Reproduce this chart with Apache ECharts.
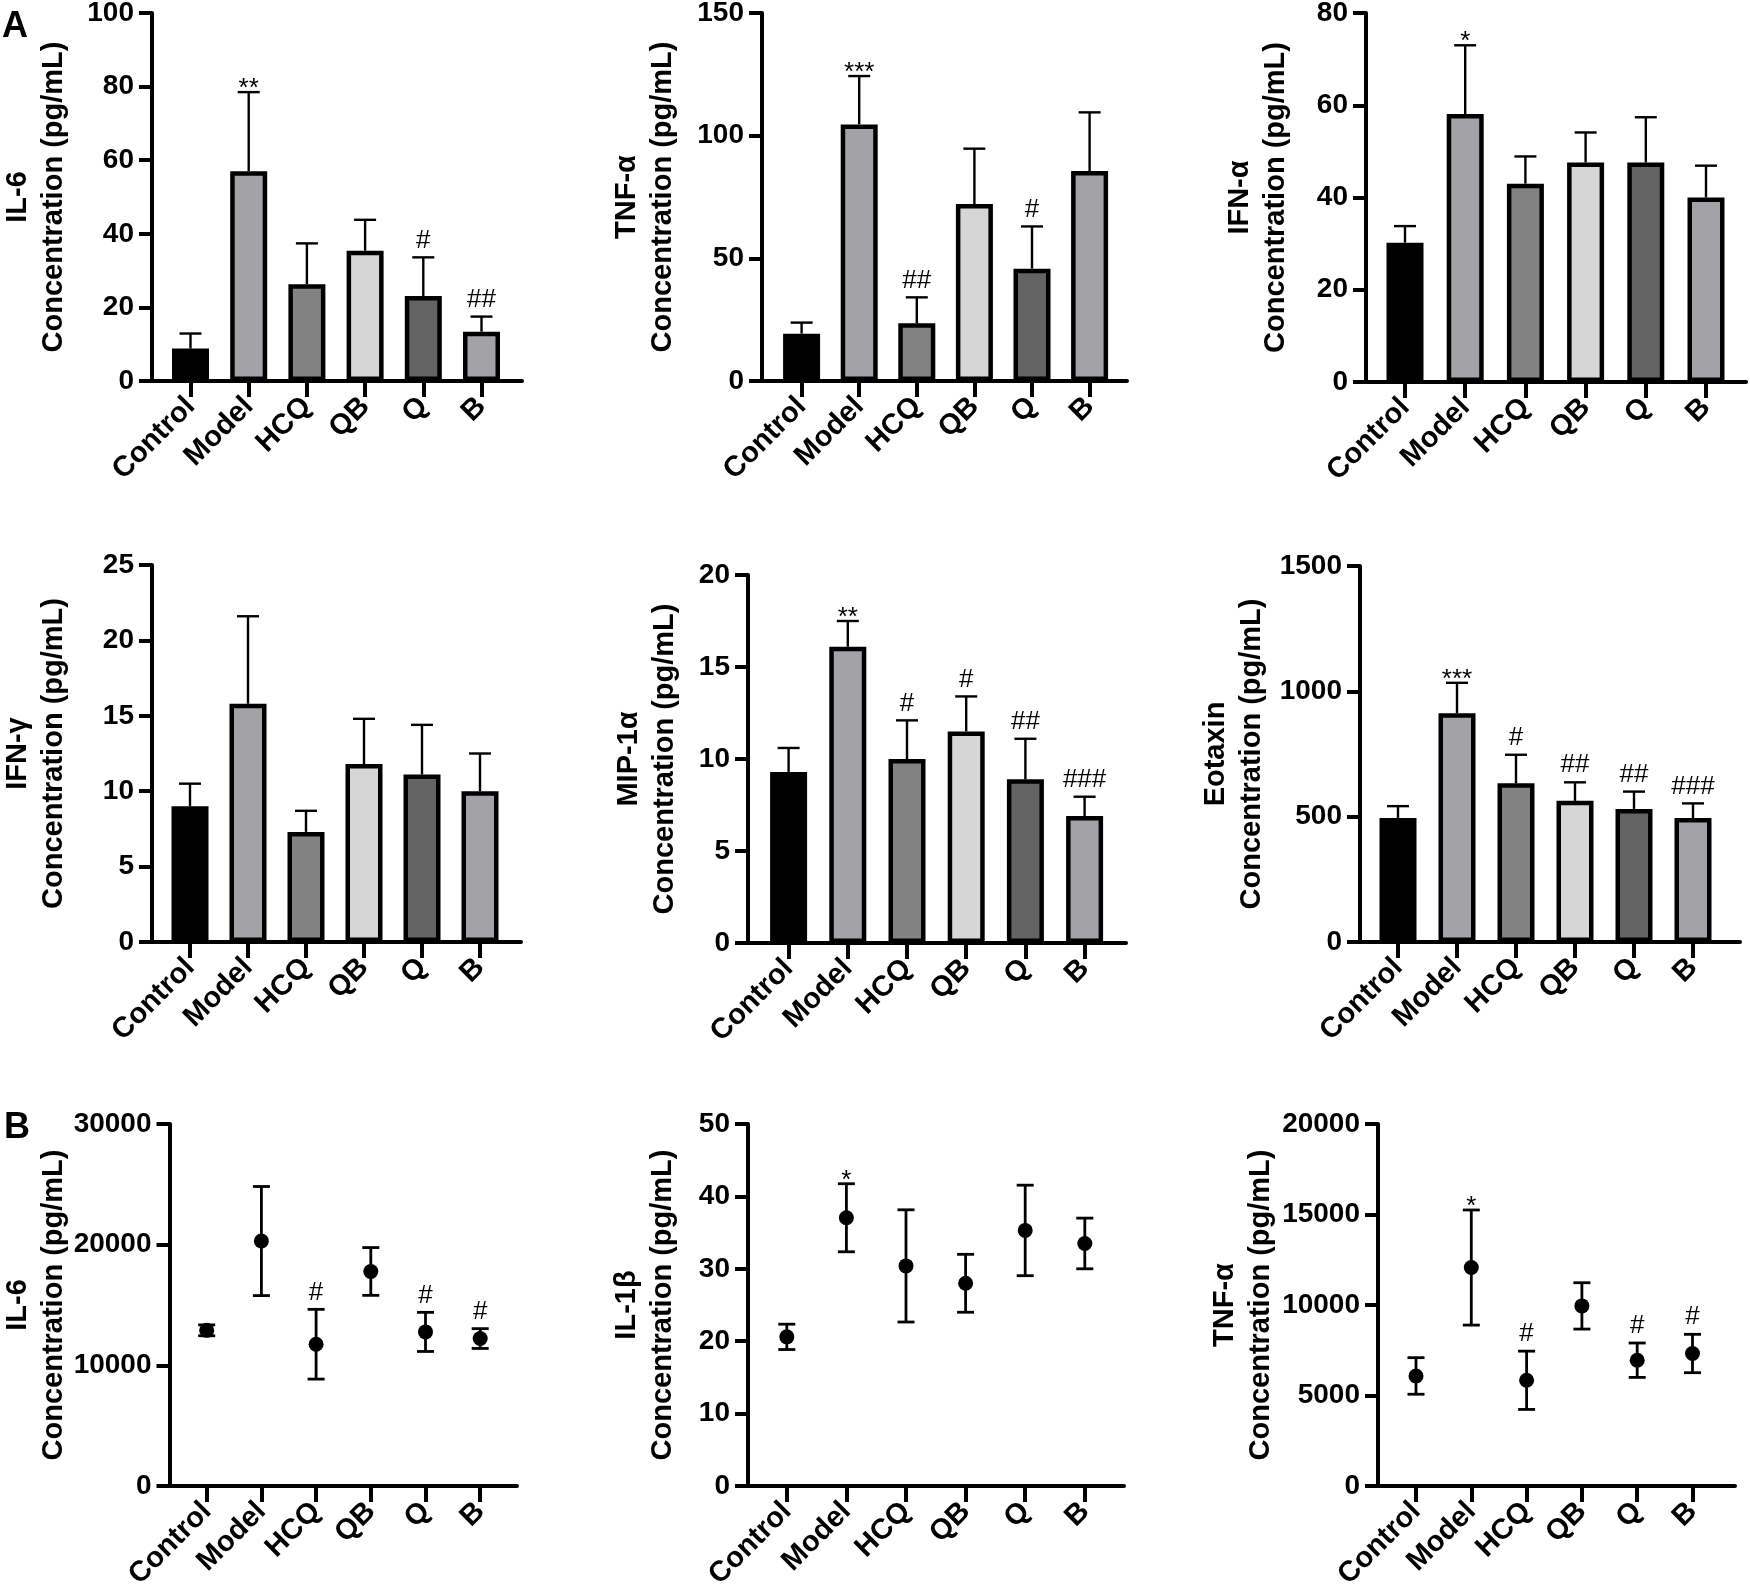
<!DOCTYPE html>
<html>
<head>
<meta charset="utf-8">
<title>Cytokine concentrations</title>
<script src="https://cdn.jsdelivr.net/npm/echarts@6.0.0/dist/echarts.min.js"></script>
<style>
  html, body { margin: 0; padding: 0; background: #fff; }
  #chart { width: 1750px; height: 1589px; }
</style>
</head>
<body>
<div id="chart"></div>
<script>
// groups on every x axis
const groups = ['Control', 'Model', 'HCQ', 'QB', 'Q', 'B'];

// A: bar panels (mean, SD, significance marks)
const il6Mean = [8.8, 57.0, 26.3, 35.4, 23.1, 13.4];
const il6Sd   = [4.1, 21.5, 11.1, 8.4, 10.5, 4.1];
const il6Sig  = ['', '**', '', '', '#', '##'];

const tnfMean = [19.3, 104.6, 23.5, 72.1, 45.8, 85.6];
const tnfSd   = [4.5, 19.7, 10.6, 22.6, 17.2, 23.9];
const tnfSig  = ['', '***', '##', '', '#', ''];

const ifnaMean = [30.2, 58.1, 43.0, 47.6, 47.6, 40.0];
const ifnaSd   = [3.6, 14.9, 5.9, 6.5, 9.8, 6.9];
const ifnaSig  = ['', '*', '', '', '', ''];

const ifngMean = [9.0, 15.8, 7.3, 11.8, 11.1, 10.0];
const ifngSd   = [1.5, 5.8, 1.4, 3.0, 3.3, 2.5];
const ifngSig  = ['', '', '', '', '', ''];

const mipMean = [9.3, 16.1, 10.0, 11.5, 8.9, 6.9];
const mipSd   = [1.3, 1.4, 2.1, 1.9, 2.2, 1.05];
const mipSig  = ['', '**', '#', '#', '##', '###'];

const eotMean = [495, 913, 633, 563, 531, 495];
const eotSd   = [47, 121, 114, 74, 69, 58];
const eotSig  = ['', '***', '#', '##', '##', '###'];

// B: dot panels (mean +- SD)
const il6bMean = [12900, 20300, 11750, 17780, 12770, 12220];
const il6bSd   = [450, 4520, 2890, 1980, 1620, 820];
const il6bSig  = ['', '', '#', '', '#', '#'];

const il1bMean = [20.6, 37.05, 30.4, 28.0, 35.3, 33.5];
const il1bSd   = [1.75, 4.7, 7.75, 4.0, 6.25, 3.5];
const il1bSig  = ['', '*', '', '', '', ''];

const tnfbMean = [6080, 12070, 5840, 9950, 6950, 7320];
const tnfbSd   = [1010, 3180, 1610, 1280, 950, 1060];
const tnfbSig  = ['', '*', '#', '', '#', '#'];

// y axis ticks: [max, interval]
const il6Ticks = [100, 20];
const tnfTicks = [150, 50];
const ifnaTicks = [80, 20];
const ifngTicks = [25, 5];
const mipTicks = [20, 5];
const eotTicks = [1500, 500];
const il6bTicks = [30000, 10000];
const il1bTicks = [50, 10];
const tnfbTicks = [20000, 5000];

const barFills = ['#000000', '#a3a2a7', '#828282', '#d6d6d6', '#636363', '#a3a2a7'];
const FONT = '"Liberation Sans", Arial, Helvetica, sans-serif';

// ax: y axis x, x0: first group x, dx: group step, end: x axis end,
// top/zero: y of max / 0, gap: axis name gap
const panels = [
  { kind: 'bar', name: 'IL-6', mean: il6Mean, sd: il6Sd, sig: il6Sig, ticks: il6Ticks,
    box: { ax: 152, x0: 190.5, dx: 58.2, end: 522, top: 13, zero: 381, gap: 80 } },
  { kind: 'bar', name: 'TNF-α', mean: tnfMean, sd: tnfSd, sig: tnfSig, ticks: tnfTicks,
    box: { ax: 762, x0: 801.6, dx: 57.6, end: 1127, top: 13, zero: 381, gap: 81 } },
  { kind: 'bar', name: 'IFN-α', mean: ifnaMean, sd: ifnaSd, sig: ifnaSig, ticks: ifnaTicks,
    box: { ax: 1366, x0: 1405, dx: 60.2, end: 1746, top: 13, zero: 382, gap: 72 } },
  { kind: 'bar', name: 'IFN-γ', mean: ifngMean, sd: ifngSd, sig: ifngSig, ticks: ifngTicks,
    box: { ax: 152, x0: 190, dx: 58, end: 521, top: 565, zero: 942, gap: 80 } },
  { kind: 'bar', name: 'MIP-1α', mean: mipMean, sd: mipSd, sig: mipSig, ticks: mipTicks,
    box: { ax: 748, x0: 788.6, dx: 59.2, end: 1126, top: 575, zero: 943, gap: 65 } },
  { kind: 'bar', name: 'Eotaxin', mean: eotMean, sd: eotSd, sig: eotSig, ticks: eotTicks,
    box: { ax: 1360, x0: 1398, dx: 59, end: 1740, top: 566, zero: 942, gap: 90 } },
  { kind: 'dot', name: 'IL-6', mean: il6bMean, sd: il6bSd, sig: il6bSig, ticks: il6bTicks,
    box: { ax: 169.5, x0: 206.7, dx: 54.7, end: 517, top: 1124, zero: 1486, gap: 98 } },
  { kind: 'dot', name: 'IL-1β', mean: il1bMean, sd: il1bSd, sig: il1bSig, ticks: il1bTicks,
    box: { ax: 748, x0: 786.8, dx: 59.6, end: 1124, top: 1124, zero: 1486, gap: 67 } },
  { kind: 'dot', name: 'TNF-α', mean: tnfbMean, sd: tnfbSd, sig: tnfbSig, ticks: tnfbTicks,
    box: { ax: 1378, x0: 1416, dx: 55.3, end: 1735, top: 1124, zero: 1486, gap: 99 } }
];

const grids = [];
const xAxes = [];
const yAxes = [];
const series = [];
const idxs = [0, 1, 2, 3, 4, 5];

function axisLineStyle() {
  return { color: '#000', width: 4 };
}

function errorBars(p, i) {
  const isDot = p.kind === 'dot';
  return {
    type: 'custom',
    xAxisIndex: i,
    yAxisIndex: i,
    z: isDot ? 2 : 1,
    silent: true,
    data: p.mean.map((m, k) => [k, m, p.sd[k]]),
    encode: { x: 0, y: 1 },
    renderItem: function (params, api) {
      const x = api.value(0);
      const m = api.value(1);
      const s = api.value(2);
      const top = api.coord([x, m + s]);
      const bot = api.coord([x, isDot ? m - s : m]);
      const cap = isDot ? 8.5 : 11;
      const lw = isDot ? 2.8 : 2.4;
      const st = { stroke: '#000', lineWidth: lw };
      const kids = [
        { type: 'line', shape: { x1: top[0], y1: top[1], x2: bot[0], y2: bot[1] }, style: st },
        { type: 'line', shape: { x1: top[0] - cap, y1: top[1], x2: top[0] + cap, y2: top[1] }, style: st }
      ];
      if (isDot) {
        kids.push({ type: 'line', shape: { x1: bot[0] - cap, y1: bot[1], x2: bot[0] + cap, y2: bot[1] }, style: st });
      }
      const mark = p.sig[params.dataIndex];
      if (mark) {
        const star = mark.indexOf('*') >= 0;
        kids.push({
          type: 'text',
          x: top[0],
          y: top[1] + (star ? 10 : -4),
          style: {
            text: mark,
            font: '26px ' + FONT,
            fill: '#000',
            align: 'center',
            verticalAlign: 'bottom'
          }
        });
      }
      return { type: 'group', children: kids };
    }
  };
}

panels.forEach(function (p, i) {
  const b = p.box;
  const lastX = b.x0 + 5 * b.dx;
  grids.push({
    left: b.ax, top: b.top,
    width: b.end - b.ax, height: b.zero - b.top,
    containLabel: false, outerBoundsMode: 'none'
  });
  xAxes.push({
    type: 'value',
    gridIndex: i,
    min: -(b.x0 - b.ax) / b.dx,
    max: 5 + (b.end - lastX) / b.dx,
    axisLine: { show: true, onZero: false, lineStyle: axisLineStyle() },
    axisTick: { show: true, customValues: idxs, length: 16, lineStyle: axisLineStyle() },
    axisLabel: {
      customValues: idxs,
      formatter: function (v) { return groups[Math.round(v)]; },
      rotate: 45,
      margin: 21,
      fontSize: 29,
      fontWeight: 'bold',
      fontFamily: FONT,
      color: '#000'
    },
    splitLine: { show: false }
  });
  yAxes.push({
    type: 'value',
    gridIndex: i,
    min: 0,
    max: p.ticks[0],
    interval: p.ticks[1],
    axisLine: { show: true, onZero: false, lineStyle: axisLineStyle() },
    axisTick: { show: true, length: 13, lineStyle: axisLineStyle() },
    axisLabel: {
      margin: 18,
      fontSize: 28,
      fontWeight: 'bold',
      fontFamily: FONT,
      color: '#000',
      formatter: function (v) { return String(v); }
    },
    splitLine: { show: false },
    name: p.name + '\nConcentration (pg/mL)',
    nameLocation: 'middle',
    nameGap: b.gap,
    nameMoveOverlap: false,
    nameTextStyle: {
      fontSize: 29,
      fontWeight: 'bold',
      fontFamily: FONT,
      lineHeight: 36,
      color: '#000',
      align: 'center'
    }
  });

  if (p.kind === 'bar') {
    series.push({
      type: 'bar',
      xAxisIndex: i,
      yAxisIndex: i,
      barWidth: 37,
      z: 2,
      silent: true,
      itemStyle: { borderColor: '#000', borderWidth: 4.5 },
      data: p.mean.map(function (m, k) {
        return { value: [k, m], itemStyle: { color: barFills[k] } };
      })
    });
  } else {
    series.push({
      type: 'scatter',
      xAxisIndex: i,
      yAxisIndex: i,
      symbol: 'circle',
      symbolSize: 15,
      z: 3,
      silent: true,
      itemStyle: { color: '#000', opacity: 1 },
      data: p.mean.map(function (m, k) { return [k, m]; })
    });
  }
  series.push(errorBars(p, i));
});

const chart = echarts.init(document.getElementById('chart'), null, { renderer: 'canvas' });
chart.setOption({
  backgroundColor: '#fff',
  animation: false,
  textStyle: { fontFamily: FONT },
  grid: grids,
  xAxis: xAxes,
  yAxis: yAxes,
  series: series,
  graphic: [
    { type: 'text', left: 2, top: 9, style: { text: 'A', font: 'bold 36px ' + FONT, fill: '#000' } },
    { type: 'text', left: 4, top: 1110, style: { text: 'B', font: 'bold 36px ' + FONT, fill: '#000' } }
  ]
});
</script>
</body>
</html>
